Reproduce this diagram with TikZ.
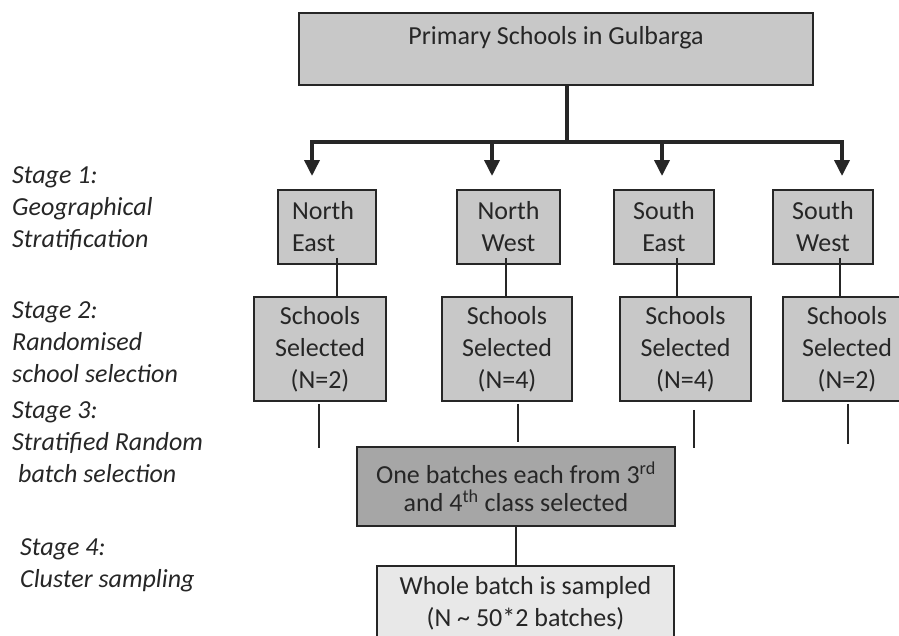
\documentclass[tikz,border=0pt]{standalone}
\usepackage{fontspec}
\setmainfont{Carlito}
\usetikzlibrary{arrows.meta}
\definecolor{boxgray}{RGB}{200,200,200}
\definecolor{batchgray}{RGB}{166,166,166}
\definecolor{palegray}{RGB}{232,232,232}
\definecolor{inkgray}{RGB}{38,38,38}
\begin{document}
\begin{tikzpicture}[x=1pt,y=-1pt,
    every node/.append style={text=inkgray,font=\fontsize{26}{32}\selectfont},
    box/.style={draw=inkgray,line width=1.6pt,fill=boxgray,inner sep=0pt,align=center},
    stage/.style={anchor=north west,align=left,inner sep=0pt,
      font=\fontsize{26}{32}\selectfont\itshape},
    link/.style={draw=inkgray,line width=1.4pt},
    trunk/.style={draw=inkgray,line width=3.6pt},
    branch/.style={trunk,-{Triangle[length=16pt,width=15pt]}}]
    \useasboundingbox (0,0) rectangle (899,635);

    % top of the tree
    \node[box,minimum width=514pt,text height=31pt,text depth=41pt] (gulbarga) at (556,49) {Primary Schools in Gulbarga};
    \coordinate (split) at (567,142);
    \coordinate (tip1) at (312,176);
    \coordinate (tip2) at (492,176);
    \coordinate (tip3) at (662,176);
    \coordinate (tip4) at (842,176);
    \draw[trunk] (gulbarga.south -| split) -- (split);
    \foreach \t in {tip1,tip2,tip3,tip4}
      \draw[branch] (split) -| (\t);

    % stage 1
    \node[box,minimum width=98pt,minimum height=74pt,text width=70pt,align=left] (ne) at (327,227) {North\\East};
    \node[box,minimum width=103pt,minimum height=74pt] (nw) at (508.5,227) {North\\West};
    \node[box,minimum width=100pt,minimum height=74pt] (se) at (664,227) {South\\East};
    \node[box,minimum width=100pt,minimum height=74pt] (sw) at (823,227) {South\\West};

    % stage 2
    \node[box,minimum width=132pt,minimum height=104pt] (nesel) at (320,349) {Schools\\Selected\\(N=2)};
    \node[box,minimum width=130pt,minimum height=104pt] (nwsel) at (507,349) {Schools\\Selected\\(N=4)};
    \node[box,minimum width=131pt,minimum height=104pt] (sesel) at (685.5,349) {Schools\\Selected\\(N=4)};
    \node[box,minimum width=128pt,minimum height=104pt] (swsel) at (847,349) {Schools\\Selected\\(N=2)};

    \draw[link] ([xshift=10pt,yshift=7pt]ne.south) -- ([xshift=17pt]nesel.north);
    \draw[link] ([xshift=-2.5pt,yshift=7pt]nw.south) -- ([xshift=-1pt]nwsel.north);
    \draw[link] ([xshift=13pt,yshift=7pt]se.south) -- ([xshift=-8.5pt]sesel.north);
    \draw[link] ([xshift=17pt,yshift=7pt]sw.south) -- ([xshift=-7pt]swsel.north);

    \draw[link] ([xshift=-1pt,yshift=-2pt]nesel.south) -- ++(0,44);
    \draw[link] ([xshift=11pt,yshift=-2pt]nwsel.south) -- ++(0,38);
    \draw[link] ([xshift=8.5pt,yshift=-8pt]sesel.south) -- ++(0,38);
    \draw[link] ([xshift=1pt,yshift=-2pt]swsel.south) -- ++(0,40);

    % stages 3 and 4
    \node[box,fill=batchgray,minimum width=318pt,minimum height=79pt,
      font=\fontsize{26}{28}\selectfont] (batch) at (516,486.5)
      {One batches each from 3\textsuperscript{rd}\\and 4\textsuperscript{th} class selected};
    \node[box,fill=palegray,minimum width=297pt,minimum height=74pt] (whole) at (525.5,603)
      {Whole batch is sampled\\(N \textasciitilde{} 50*2 batches)};
    \draw[link] (batch.south) -- (batch.south |- whole.north);

    % stage labels
    \node[stage] (st1) at (12,166) {Stage 1:\\Geographical\\Stratification};
    \node[stage] (st2) at (12,301) {Stage 2:\\Randomised\\school selection};
    \node[stage] (st3) at (12,401) {Stage 3:\\Stratified Random\\\hspace*{6pt}batch selection};
    \node[stage] (st4) at (20,538) {Stage 4:\\Cluster sampling};
\end{tikzpicture}
\end{document}
